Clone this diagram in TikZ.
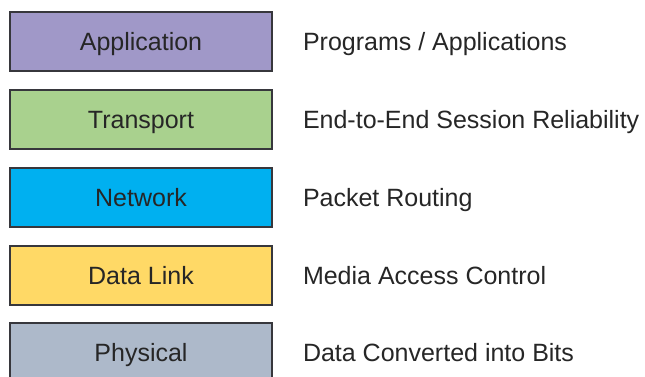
\documentclass[tikz,border=0pt]{standalone}
\usepackage{fontspec}
\setmainfont{Liberation Sans}
\usetikzlibrary{positioning}

\definecolor{appfill}{RGB}{160,152,200}
\definecolor{transfill}{RGB}{169,209,142}
\definecolor{netfill}{RGB}{0,176,240}
\definecolor{linkfill}{RGB}{255,217,102}
\definecolor{physfill}{RGB}{173,185,202}
\definecolor{edgegray}{RGB}{55,55,60}
\definecolor{inkgray}{RGB}{38,38,38}

\begin{document}
\begin{tikzpicture}[x=1pt, y=-1pt,
  layer/.style={draw=edgegray, line width=2pt, inner sep=0pt, outer sep=0pt,
       minimum width=262pt, minimum height=59pt,
       text height=18pt, text depth=0pt, text=inkgray,
       font=\fontsize{25}{30}\selectfont},
  role/.style={inner sep=0pt, outer sep=0pt,
       text height=18pt, text depth=0pt, text=inkgray,
       font=\fontsize{25}{30}\selectfont}]

\clip (0,0) rectangle (645,377);
\fill[white] (0,0) rectangle (645,377);

% the five layers
\node[layer, fill=appfill]   (app)   at (141, 42)    {Application};
\node[layer, fill=transfill] (trans) at (141, 120)   {Transport};
\node[layer, fill=netfill]   (net)   at (141, 197.5) {Network};
\node[layer, fill=linkfill]  (link)  at (141, 275)   {Data Link};
\node[layer, fill=physfill]  (phys)  at (141, 352.5) {Physical};

% what each layer does
\node[role, right=31pt of app]   (appdesc)   {Programs / Applications};
\node[role, right=31pt of trans] (transdesc) {End-to-End Session Reliability};
\node[role, right=31pt of net]   (netdesc)   {Packet Routing};
\node[role, right=31pt of link]  (linkdesc)  {Media Access Control};
\node[role, right=31pt of phys]  (physdesc)  {Data Converted into Bits};
\end{tikzpicture}
\end{document}
